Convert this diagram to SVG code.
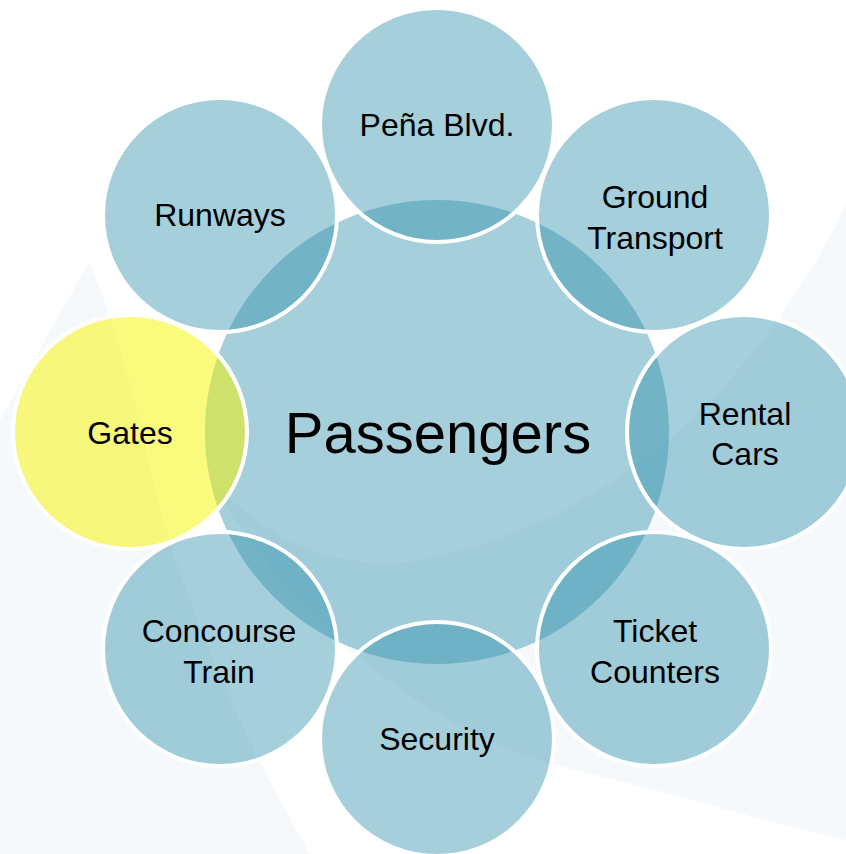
<svg xmlns="http://www.w3.org/2000/svg" width="846" height="854" viewBox="0 0 846 854">
  <style>
    .bg { fill: #f6f9fb; }
    .hub { fill: rgb(47,144,172); fill-opacity: 0.43; }
    .sat { fill: rgb(47,144,172); fill-opacity: 0.43; stroke: #ffffff; stroke-width: 4; }
    .hl { fill: #f6f600; fill-opacity: 0.51; stroke: #ffffff; stroke-width: 4; }
    .lbl { font-family: "Liberation Sans", Arial, sans-serif; font-size: 32px; fill: #000; text-anchor: middle; }
    .big { font-family: "Liberation Sans", Arial, sans-serif; font-size: 58px; fill: #000; text-anchor: middle; }
  </style>
  <rect width="846" height="854" fill="#ffffff"/>
  <g id="background">
    <path class="bg" d="M89,262 L0,420 L0,854 L310,854 C250,750 180,600 150,470 C135,400 118,330 89,262 Z"/>
    <path class="bg" d="M846,205 C760,380 620,520 420,560 C330,575 250,530 205,470 C300,640 450,740 560,766 C660,790 760,820 846,840 Z"/>
  </g>
  <g id="connectors"></g>
  <g id="passengers">
    <circle class="hub" cx="437" cy="432" r="232"/>
    <text class="big" x="438" y="453">Passengers</text>
  </g>
  <g id="pena-blvd">
    <circle class="sat" cx="437" cy="125" r="117"/>
    <text class="lbl" x="437" y="136">Peña Blvd.</text>
  </g>
  <g id="ground-transport">
    <circle class="sat" cx="654" cy="215" r="117"/>
    <text class="lbl" x="655" y="208">Ground</text>
    <text class="lbl" x="655" y="249">Transport</text>
  </g>
  <g id="rental-cars">
    <circle class="sat" cx="744" cy="432" r="117"/>
    <text class="lbl" x="745" y="425">Rental</text>
    <text class="lbl" x="745" y="465">Cars</text>
  </g>
  <g id="ticket-counters">
    <circle class="sat" cx="654" cy="649" r="117"/>
    <text class="lbl" x="655" y="642">Ticket</text>
    <text class="lbl" x="655" y="683">Counters</text>
  </g>
  <g id="security">
    <circle class="sat" cx="437" cy="739" r="117"/>
    <text class="lbl" x="437" y="750">Security</text>
  </g>
  <g id="concourse-train">
    <circle class="sat" cx="220" cy="649" r="117"/>
    <text class="lbl" x="219" y="642">Concourse</text>
    <text class="lbl" x="219" y="683">Train</text>
  </g>
  <g id="gates">
    <circle class="hl" cx="130" cy="432" r="117"/>
    <text class="lbl" x="130" y="444">Gates</text>
  </g>
  <g id="runways">
    <circle class="sat" cx="220" cy="215" r="117"/>
    <text class="lbl" x="220" y="226">Runways</text>
  </g>
</svg>
